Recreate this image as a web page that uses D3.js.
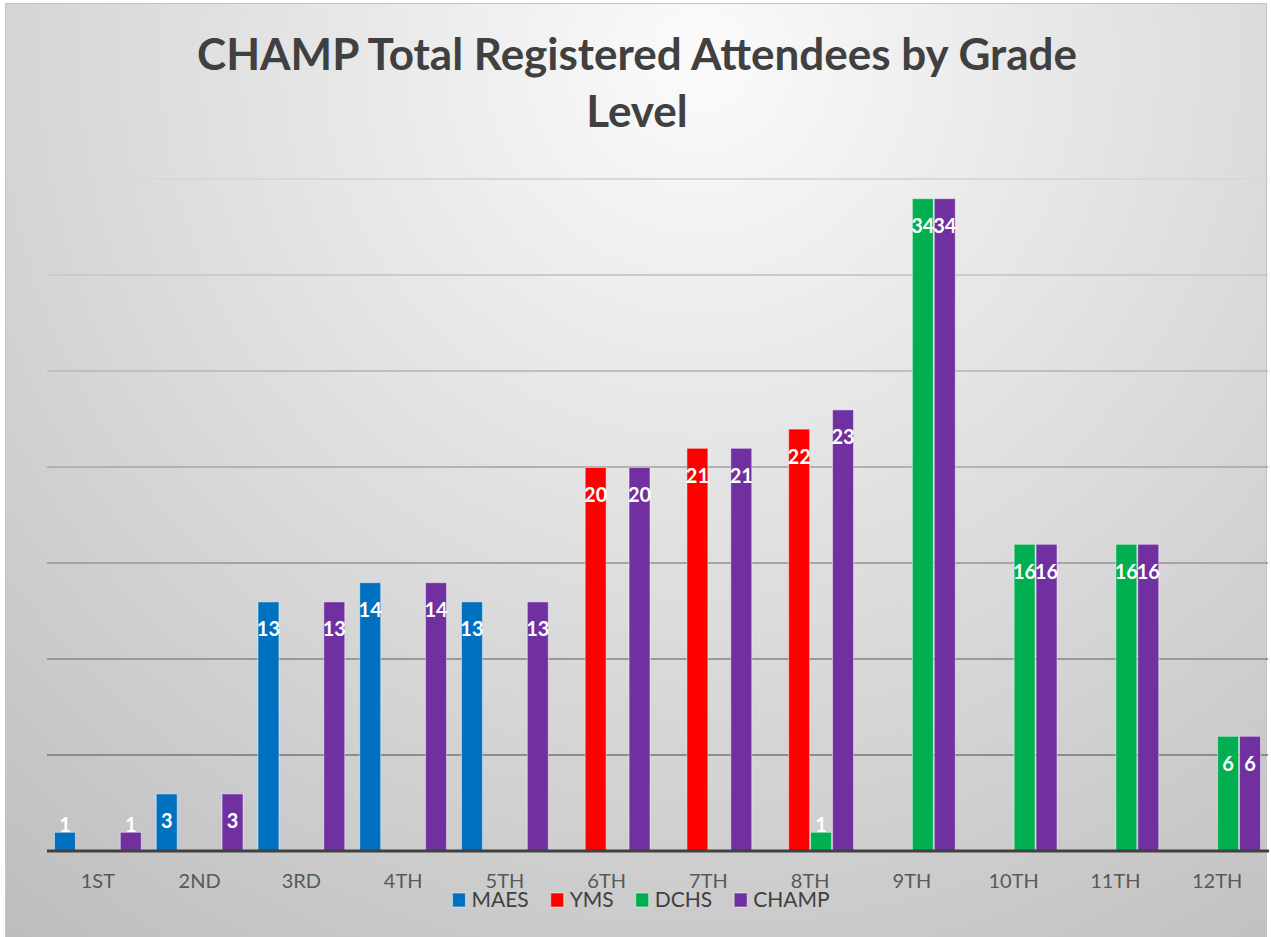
<!DOCTYPE html>
<html>
<head>
<meta charset="utf-8">
<script src="https://cdn.jsdelivr.net/npm/d3@7"></script>
<style>
  html, body { margin: 0; padding: 0; background: #ffffff; }
  svg { display: block; }
</style>
</head>
<body>
<svg id="chart" width="1271" height="937"></svg>
<script>
const categories = ["1ST","2ND","3RD","4TH","5TH","6TH","7TH","8TH","9TH","10TH","11TH","12TH"];
const seriesNames = ["MAES","YMS","DCHS","CHAMP"];
const seriesColors = ["#0070C0","#FF0000","#00B050","#7030A0"];
const maesValues  = [1,3,13,14,13,0,0,0,0,0,0,0];
const ymsValues   = [0,0,0,0,0,20,21,22,0,0,0,0];
const dchsValues  = [0,0,0,0,0,0,0,1,34,16,16,6];
const champValues = [1,3,13,14,13,20,21,23,34,16,16,6];
const gridTicks = [5,10,15,20,25,30,35];
const titleLines = ["CHAMP Total Registered Attendees by Grade", "Level"];

const seriesValues = [maesValues, ymsValues, dchsValues, champValues];

const W = 1271, H = 937;
const svg = d3.select("#chart");
const defs = svg.append("defs");
const rg = defs.append("radialGradient")
  .attr("id","bg").attr("gradientUnits","userSpaceOnUse")
  .attr("cx",700).attr("cy",60).attr("r",1120);
rg.append("stop").attr("offset","0%").attr("stop-color","#fbfbfb");
rg.append("stop").attr("offset","100%").attr("stop-color","#bdbdbd");

svg.append("rect").attr("x",5.5).attr("y",3.5).attr("width",1261).attr("height",945)
  .attr("fill","url(#bg)").attr("stroke","#c4c4c4").attr("stroke-width",1);

const plotLeft = 47, plotRight = 1268, baseY = 851, topY = 179;
const x = d3.scaleBand().domain(categories).range([plotLeft, plotRight]).paddingInner(0).paddingOuter(0);
const xs = d3.scaleBand().domain(seriesNames).range([7, x.bandwidth() - 7]).padding(0);
const y = d3.scaleLinear().domain([0, 35]).range([baseY, topY]);

// gridlines
const gridColor = d3.scaleLinear().domain([5, 35]).range(["#8c8c8c", "#d8d8d8"]).interpolate(d3.interpolateRgb);
svg.append("g").selectAll("line").data(gridTicks).join("line")
  .attr("x1", plotLeft).attr("x2", plotRight)
  .attr("y1", d => y(d)).attr("y2", d => y(d))
  .attr("stroke", d => gridColor(d)).attr("stroke-width", 2);

// title
svg.append("g").selectAll("text").data(titleLines).join("text")
  .attr("x", 637).attr("y", (d,i) => 70 + i*57)
  .attr("text-anchor","middle")
  .attr("font-family","Lato, 'Open Sans', sans-serif")
  .attr("font-weight","bold").attr("font-size", 44)
  .attr("fill","#404040")
  .text(d => d);

// bars
const barData = [];
seriesNames.forEach((s, si) => {
  categories.forEach((c, ci) => {
    barData.push({series: s, si, cat: c, value: seriesValues[si][ci]});
  });
});
const nonZero = barData.filter(d => d.value > 0);

svg.append("g").selectAll("rect").data(nonZero).join("rect")
  .attr("x", d => x(d.cat) + xs(d.series) + 0.5)
  .attr("width", xs.bandwidth() - 1)
  .attr("y", d => y(d.value) + 0.5)
  .attr("height", d => y(0) - y(d.value) - 0.5)
  .attr("fill", d => seriesColors[d.si])
  .attr("stroke", "rgba(255,255,255,0.45)").attr("stroke-width", 1);

// axis line
svg.append("line").attr("x1", plotLeft).attr("x2", plotRight + 1)
  .attr("y1", baseY).attr("y2", baseY)
  .attr("stroke", "#404040").attr("stroke-width", 3);

// category labels
const xAxis = d3.axisBottom(x).tickSize(0).tickPadding(0);
const gx = svg.append("g").attr("transform", `translate(0, ${baseY})`).call(xAxis);
gx.select(".domain").remove();
gx.selectAll("text")
  .attr("dy", 0).attr("y", 37)
  .attr("font-family","Lato, 'Open Sans', sans-serif")
  .attr("font-size", 20).attr("fill", "#595959");

// data labels
svg.append("g").selectAll("text").data(nonZero).join("text")
  .attr("x", d => x(d.cat) + xs(d.series) + xs.bandwidth()/2)
  .attr("y", d => Math.min(y(d.value) + 35, baseY - 19))
  .attr("text-anchor","middle")
  .attr("font-family","Lato, 'Open Sans', sans-serif")
  .attr("font-weight","bold").attr("font-size", 20)
  .attr("fill","#ffffff")
  .text(d => d.value);

// legend
const legend = svg.append("g");
const items = legend.selectAll("g").data(seriesNames).join("g");
items.append("rect").attr("width", 13).attr("height", 14).attr("y", -14)
  .attr("fill", (d,i) => seriesColors[i])
  .attr("stroke", "rgba(255,255,255,0.5)").attr("stroke-width", 1);
items.append("text").attr("x", 19).attr("y", 0)
  .attr("font-family","Lato, 'Open Sans', sans-serif")
  .attr("font-size", 21).attr("fill", "#404040")
  .text(d => d);
const widths = [];
items.each(function() { widths.push(this.getBBox().width); });
const gap = 22;
const total = d3.sum(widths) + gap * (widths.length - 1);
let cx = 641 - total / 2;
items.attr("transform", (d, i) => {
  const t = `translate(${cx}, 907)`;
  cx += widths[i] + gap;
  return t;
});
</script>
</body>
</html>
